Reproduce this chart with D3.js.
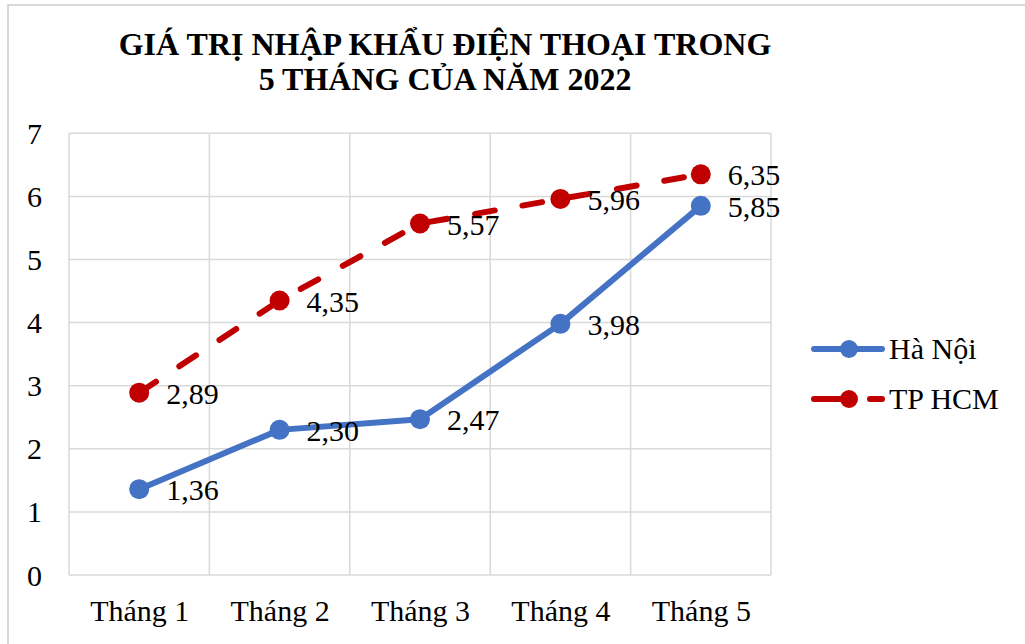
<!DOCTYPE html>
<html>
<head>
<meta charset="utf-8">
<script src="https://cdn.jsdelivr.net/npm/d3@7"></script>
<style>
  html, body { margin: 0; padding: 0; background: #fff; }
  svg { display: block; }
  text { font-family: "Liberation Serif", "Times New Roman", serif; fill: #000; }
</style>
</head>
<body>
<script>
// Import value of phones (5 months of 2022)
const months = ["Tháng 1", "Tháng 2", "Tháng 3", "Tháng 4", "Tháng 5"];
const haNoi = [1.36, 2.30, 2.47, 3.98, 5.85];
const tpHCM = [2.89, 4.35, 5.57, 5.96, 6.35];
const yTicks = [0, 1, 2, 3, 4, 5, 6, 7];
const seriesNames = ["Hà Nội", "TP HCM"];
const titleLines = ["GIÁ TRỊ NHẬP KHẨU ĐIỆN THOẠI TRONG", "5 THÁNG CỦA NĂM 2022"];

const W = 1025, H = 644;
const plot = { left: 69, right: 771, top: 133.3, bottom: 575 };
const colors = { "Hà Nội": "#4472C4", "TP HCM": "#C00000" };

const svg = d3.select("body").append("svg").attr("width", W).attr("height", H);

// chart frame
svg.append("path")
  .attr("d", `M8,${H} L8,5 L${W},5`)
  .attr("fill", "none").attr("stroke", "#d9d9d9").attr("stroke-width", 2);

// title
svg.append("text")
  .attr("x", 445).attr("y", 55)
  .attr("text-anchor", "middle")
  .style("font-size", "32px").style("font-weight", "bold")
  .selectAll("tspan").data(titleLines).join("tspan")
  .attr("x", 445).attr("dy", (d, i) => i === 0 ? 0 : 35)
  .text(d => d);

const x = d3.scalePoint().domain(months).range([plot.left, plot.right]).padding(0.5);
const y = d3.scaleLinear().domain([0, 7]).range([plot.bottom, plot.top]);
const step = x.step();

// gridlines
const grid = svg.append("g").attr("stroke", "#d9d9d9").attr("stroke-width", 1.5);
grid.selectAll("line.h").data(yTicks).join("line")
  .attr("x1", plot.left).attr("x2", plot.right)
  .attr("y1", d => y(d)).attr("y2", d => y(d));
grid.selectAll("line.v").data(d3.range(months.length + 1)).join("line")
  .attr("x1", i => plot.left + i * step).attr("x2", i => plot.left + i * step)
  .attr("y1", plot.top).attr("y2", plot.bottom);

// y axis labels
const yAxis = d3.axisLeft(y).tickValues(yTicks).tickSize(0).tickPadding(0).tickFormat(d3.format("d"));
const yg = svg.append("g").attr("transform", "translate(42,0)").call(yAxis);
yg.select(".domain").remove();
yg.selectAll("text")
  .attr("x", 0).attr("dy", null).attr("y", 10)
  .style("font-size", "30px").style("font-family", "'Liberation Serif', serif")
  .attr("fill", "#000");

// x axis labels
const xAxis = d3.axisBottom(x).tickSize(0).tickPadding(0);
const xg = svg.append("g").attr("transform", "translate(0,621)").call(xAxis);
xg.select(".domain").remove();
xg.selectAll("text")
  .attr("y", 0).attr("dy", null)
  .style("font-size", "30px").style("font-family", "'Liberation Serif', serif")
  .attr("fill", "#000");

const series = [
  { name: "Hà Nội", values: haNoi, dash: null },
  { name: "TP HCM", values: tpHCM, dash: "20,28" }
];

const fmt = v => d3.format(".2f")(v).replace(".", ",");
const line = d3.line().x((d, i) => x(months[i])).y(d => y(d));

series.forEach(s => {
  const g = svg.append("g");
  g.append("path")
    .datum(s.values)
    .attr("d", line)
    .attr("fill", "none")
    .attr("stroke", colors[s.name])
    .attr("stroke-width", 6)
    .attr("stroke-linecap", "round")
    .attr("stroke-linejoin", "round")
    .attr("stroke-dasharray", s.dash);
  g.selectAll("circle").data(s.values).join("circle")
    .attr("cx", (d, i) => x(months[i]))
    .attr("cy", d => y(d))
    .attr("r", 10)
    .attr("fill", colors[s.name]);
  g.selectAll("text").data(s.values).join("text")
    .attr("x", (d, i) => x(months[i]) + 27)
    .attr("y", d => y(d) + 11)
    .style("font-size", "30px")
    .text(fmt);
});

// legend
const legend = svg.append("g");
series.forEach((s, i) => {
  const ly = 349 + i * 50;
  const lg = legend.append("g");
  if (s.dash) {
    lg.append("line").attr("x1", 814).attr("x2", 852).attr("y1", ly).attr("y2", ly);
    lg.append("line").attr("x1", 870).attr("x2", 882).attr("y1", ly).attr("y2", ly);
  } else {
    lg.append("line").attr("x1", 814).attr("x2", 882).attr("y1", ly).attr("y2", ly);
  }
  lg.selectAll("line")
    .attr("stroke", colors[s.name]).attr("stroke-width", 6).attr("stroke-linecap", "round");
  lg.append("circle").attr("cx", 849).attr("cy", ly).attr("r", 9).attr("fill", colors[s.name]);
  lg.append("text").attr("x", 889).attr("y", ly + 10)
    .style("font-size", "30px").text(s.name);
});
</script>
</body>
</html>
